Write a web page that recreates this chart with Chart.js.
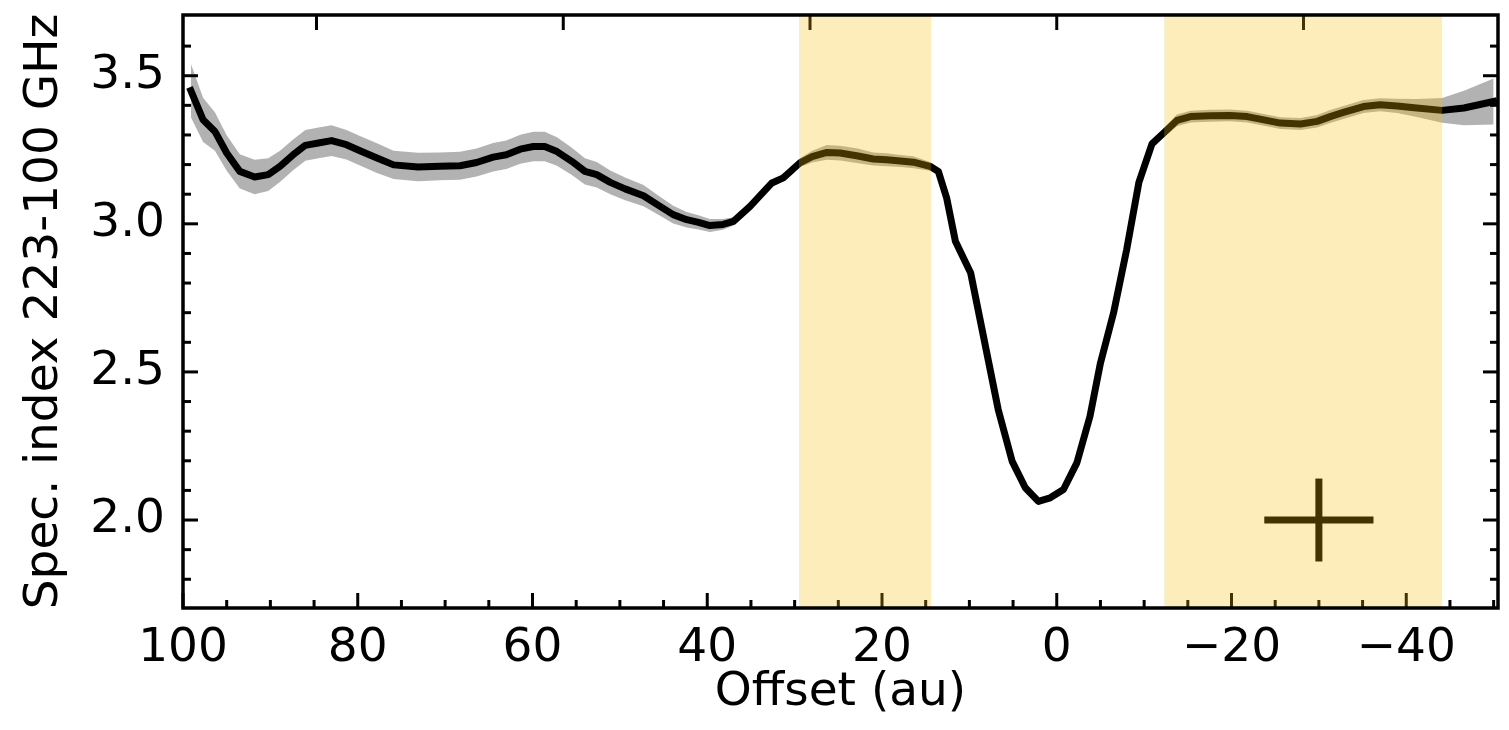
<!DOCTYPE html>
<html>
<head>
<meta charset="utf-8">
<script src="https://cdn.jsdelivr.net/npm/chart.js@4/dist/chart.umd.min.js"></script>
<style>
  html, body { margin: 0; padding: 0; background: #fff; }
  #wrap { width: 1509px; height: 730px; position: relative; }
</style>
</head>
<body>
<div id="wrap"><canvas id="c"></canvas></div>
<script>
// ---- data ----
const offsets = [99.1, 97.7, 96.35, 95.0, 93.5, 91.8, 90.25, 88.9, 87.4, 86.0, 84.5, 83.0, 81.3, 79.55, 77.8, 75.9, 73.1, 70.6, 68.3, 66.4, 64.5, 63.0, 61.4, 59.9, 58.6, 57.2, 55.5, 54.0, 52.65, 51.1, 49.4, 47.3, 45.4, 43.9, 42.35, 41.0, 39.7, 38.2, 37.0, 35.1, 33.8, 32.6, 31.3, 29.35, 28.0, 26.3, 24.8, 22.9, 21.0, 19.45, 17.9, 16.4, 14.5, 13.55, 12.6, 11.6, 9.85, 6.7, 5.1, 3.6, 2.1, 0.75, -0.77, -2.3, -3.8, -5.0, -6.5, -8.0, -9.4, -10.9, -12.2, -13.75, -15.3, -17.55, -19.85, -21.8, -23.7, -25.6, -27.9, -29.8, -31.3, -32.8, -35.1, -37.0, -38.95, -41.2, -44.1, -46.6, -50.0];
const specIndex = [3.450, 3.351, 3.312, 3.239, 3.177, 3.158, 3.166, 3.194, 3.233, 3.265, 3.273, 3.281, 3.267, 3.244, 3.222, 3.199, 3.192, 3.194, 3.196, 3.207, 3.225, 3.233, 3.252, 3.261, 3.261, 3.244, 3.211, 3.177, 3.166, 3.140, 3.118, 3.095, 3.059, 3.031, 3.014, 3.005, 2.994, 2.998, 3.008, 3.059, 3.100, 3.138, 3.155, 3.207, 3.227, 3.241, 3.239, 3.230, 3.219, 3.216, 3.212, 3.208, 3.194, 3.177, 3.087, 2.941, 2.834, 2.373, 2.198, 2.109, 2.063, 2.075, 2.103, 2.193, 2.350, 2.530, 2.699, 2.913, 3.140, 3.270, 3.306, 3.349, 3.362, 3.365, 3.366, 3.362, 3.351, 3.340, 3.337, 3.346, 3.362, 3.376, 3.396, 3.402, 3.398, 3.391, 3.383, 3.391, 3.413];
const specErr = [0.090, 0.075, 0.065, 0.060, 0.058, 0.058, 0.055, 0.053, 0.052, 0.052, 0.052, 0.052, 0.050, 0.050, 0.050, 0.048, 0.048, 0.047, 0.047, 0.047, 0.048, 0.048, 0.049, 0.050, 0.050, 0.048, 0.046, 0.044, 0.043, 0.040, 0.038, 0.036, 0.032, 0.030, 0.026, 0.024, 0.022, 0.018, 0.014, 0.012, 0.012, 0.012, 0.012, 0.015, 0.020, 0.025, 0.025, 0.025, 0.022, 0.022, 0.020, 0.020, 0.015, 0.010, 0.006, 0.005, 0.005, 0.005, 0.005, 0.005, 0.005, 0.005, 0.005, 0.005, 0.005, 0.005, 0.005, 0.006, 0.008, 0.010, 0.015, 0.020, 0.020, 0.020, 0.020, 0.020, 0.020, 0.020, 0.020, 0.021, 0.022, 0.022, 0.022, 0.022, 0.024, 0.030, 0.042, 0.058, 0.078];

const shadedRanges = [[29.5, 14.4], [-12.3, -44.1]];
const beamCenter = [-30.0, 2.0];
const beamHalfX = 6.25;
const beamHalfY = 0.14;

const xMajorTicks = [100, 80, 60, 40, 20, 0, -20, -40];
const xMinorTicks = [95, 90, 85, 75, 70, 65, 55, 50, 45, 35, 30, 25, 15, 10, 5, -5, -10, -15, -25, -30, -35, -45, -50];
const xTopTicks = [84.72, 56.48, 28.24, 0, -28.24];
const yMajorTicks = [2.0, 2.5, 3.0, 3.5];
const yMinorTicks = [1.8, 1.9, 2.1, 2.2, 2.3, 2.4, 2.6, 2.7, 2.8, 2.9, 3.1, 3.2, 3.3, 3.4, 3.6];

// ---- chart ----
Chart.defaults.font.family = "'DejaVu Sans', sans-serif";
Chart.defaults.color = '#000';

const FONT = { family: "'DejaVu Sans', sans-serif", size: 47, lineHeight: 1.2 };
const MAJOR = 15, MINOR = 8;

const framePlugin = {
  id: 'framePlugin',
  afterDatasetsDraw(chart) {
    const { ctx, chartArea: { left, right, top, bottom }, scales: { x, y } } = chart;
    ctx.save();
    ctx.strokeStyle = '#000';
    ctx.lineWidth = 3;
    ctx.lineCap = 'butt';
    const seg = (x1, y1, x2, y2) => { ctx.beginPath(); ctx.moveTo(x1, y1); ctx.lineTo(x2, y2); ctx.stroke(); };
    xMinorTicks.forEach(v => { const p = x.getPixelForValue(v); seg(p, bottom, p, bottom - MINOR); });
    xMajorTicks.forEach(v => { const p = x.getPixelForValue(v); seg(p, bottom, p, bottom - MAJOR); });
    xTopTicks.forEach(v => { const p = x.getPixelForValue(v); seg(p, top, p, top + MAJOR); });
    yMinorTicks.forEach(v => { const p = y.getPixelForValue(v); seg(left, p, left + MINOR, p); seg(right, p, right - MINOR, p); });
    yMajorTicks.forEach(v => { const p = y.getPixelForValue(v); seg(left, p, left + MAJOR, p); seg(right, p, right - MAJOR, p); });
    // shaded spans (drawn over the data)
    ctx.fillStyle = 'rgba(245,190,0,0.27)';
    shadedRanges.forEach(([a, b]) => {
      const x1 = x.getPixelForValue(a), x2 = x.getPixelForValue(b);
      ctx.fillRect(Math.min(x1, x2), top, Math.abs(x2 - x1), bottom - top);
    });
    // frame
    ctx.lineWidth = 3.5;
    ctx.strokeRect(left, top, right - left, bottom - top);
    ctx.restore();
  }
};

const pts = (ys) => offsets.map((xv, i) => ({ x: xv, y: ys[i] }));
const upper = pts(specIndex.map((v, i) => v + specErr[i]));
const lower = pts(specIndex.map((v, i) => v - specErr[i]));
const mainLine = pts(specIndex);

new Chart(document.getElementById('c'), {
  type: 'line',
  data: {
    datasets: [
      { data: upper, borderColor: 'transparent', borderWidth: 0, pointRadius: 0, fill: false, tension: 0 },
      { data: lower, borderColor: 'transparent', borderWidth: 0, pointRadius: 0, fill: '-1', backgroundColor: 'rgba(0,0,0,0.3)', tension: 0 },
      { data: mainLine, borderColor: '#000', borderWidth: 7, pointRadius: 0, fill: false, tension: 0, borderJoinStyle: 'round', borderCapStyle: 'square' },
      { data: [{ x: beamCenter[0] + beamHalfX, y: beamCenter[1] }, { x: beamCenter[0] - beamHalfX, y: beamCenter[1] }], borderColor: '#000', borderWidth: 7, pointRadius: 0, fill: false },
      { data: [{ x: beamCenter[0], y: beamCenter[1] - beamHalfY }, { x: beamCenter[0], y: beamCenter[1] + beamHalfY }], borderColor: '#000', borderWidth: 7, pointRadius: 0, fill: false }
    ]
  },
  options: {
    responsive: true,
    maintainAspectRatio: false,
    devicePixelRatio: 1,
    animation: false,
    layout: { padding: { top: 15, right: 11, left: 0, bottom: 0 } },
    plugins: { legend: { display: false }, tooltip: { enabled: false } },
    scales: {
      x: {
        type: 'linear',
        reverse: true,
        min: -50.5,
        max: 100,
        afterBuildTicks: (s) => { s.ticks = xMajorTicks.map(v => ({ value: v })); },
        afterFit: (s) => { s.height = 122; s.paddingLeft = 0; s.paddingRight = 0; },
        grid: { display: false, drawTicks: false },
        border: { display: false },
        ticks: {
          font: FONT, color: '#000', padding: 13, maxRotation: 0, autoSkip: false,
          callback: (v) => (v < 0 ? '\u2212' + Math.abs(v) : String(v))
        },
        title: { display: true, text: 'Offset (au)', font: FONT, color: '#000', padding: { top: 0, bottom: 9 } }
      },
      y: {
        type: 'linear',
        min: 1.703,
        max: 3.705,
        afterBuildTicks: (s) => { s.ticks = yMajorTicks.map(v => ({ value: v })); },
        afterFit: (s) => { s.width = 183; s.paddingTop = 0; s.paddingBottom = 0; },
        grid: { display: false, drawTicks: false },
        border: { display: false },
        ticks: {
          font: FONT, color: '#000', padding: 18, autoSkip: false,
          callback: (v) => Number(v).toFixed(1)
        },
        title: { display: true, text: 'Spec. index 223-100 GHz', font: FONT, color: '#000', padding: { top: 17, bottom: 0 } }
      }
    }
  },
  plugins: [framePlugin]
});
</script>
</body>
</html>
